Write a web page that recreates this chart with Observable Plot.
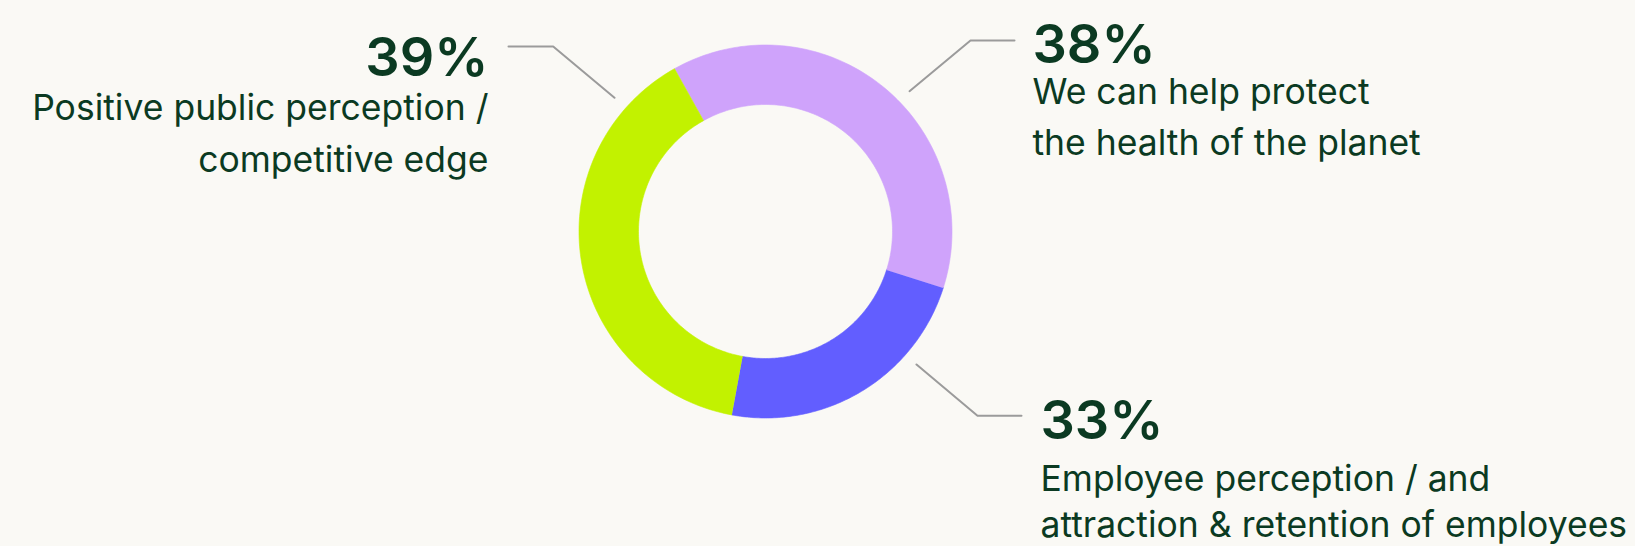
<!DOCTYPE html>
<html>
<head>
<meta charset="utf-8">
<script src="https://cdn.jsdelivr.net/npm/d3@7"></script>
<script src="https://cdn.jsdelivr.net/npm/@observablehq/plot@0.6"></script>
<style>
  html, body { margin: 0; padding: 0; background: #faf9f5; }
  #chart svg { display: block; }
</style>
</head>
<body>
<div id="chart"></div>
<script>
// ---- Data ----
const categories = ["We can help protect the health of the planet", "Employee perception / and attraction & retention of employees", "Positive public perception / competitive edge"];
const sliceShares = [38, 23, 39];           // share of the ring each slice occupies
const pctLabels = ["38%", "33%", "39%"];    // printed labels
const descLabels = [
  "We can help protect\nthe health of the planet",
  "Employee perception / and\nattraction & retention of employees",
  "Positive public perception /\ncompetitive edge"
];
const sliceColors = ["#cfa3fb", "#625eff", "#c2f200"];

// ---- Layout (pixel-like data space) ----
const W = 1635, H = 546;
const cx = 765, cy = 231, R = 186.5, r = 127;
const startDeg = -29.2;
const ink = "#0b3a22";
const font = "Inter, 'Open Sans', sans-serif";

// Build ring-sector polygons from the shares
const total = d3.sum(sliceShares);
let acc = 0;
const slices = sliceShares.map((v, i) => {
  const a0 = startDeg + acc / total * 360;
  acc += v;
  const a1 = startDeg + acc / total * 360;
  const pts = [];
  const n = 120;
  for (let k = 0; k <= n; k++) {
    const a = (a0 + (a1 - a0) * k / n) * Math.PI / 180;
    pts.push({x: cx + R * Math.sin(a), y: cy - R * Math.cos(a)});
  }
  for (let k = n; k >= 0; k--) {
    const a = (a0 + (a1 - a0) * k / n) * Math.PI / 180;
    pts.push({x: cx + r * Math.sin(a), y: cy - r * Math.cos(a)});
  }
  return {category: categories[i], color: sliceColors[i], pts};
});

// Leader lines
const leaders = [
  [{x: 909, y: 90.7}, {x: 970, y: 40}, {x: 1014, y: 40}],
  [{x: 916, y: 364}, {x: 977, y: 415.3}, {x: 1021, y: 415.3}],
  [{x: 614, y: 97.3}, {x: 552.7, y: 46}, {x: 508, y: 46}]
];

// Label anchors
const labelPos = [
  {x: 1032, pctY: 62, descY: 154, anchor: "start", lh: 1.42},
  {x: 1040, pctY: 438, descY: 536, anchor: "start", lh: 1.29},
  {x: 488, pctY: 75, descY: 171, anchor: "end", lh: 1.46}
];
const labels = pctLabels.map((p, i) => ({pct: p, desc: descLabels[i], ...labelPos[i]}));

const marks = [];
slices.forEach(s => {
  marks.push(Plot.line(s.pts, {x: "x", y: "y", fill: s.color, stroke: s.color, strokeWidth: 0.6, curve: "linear"}));
});
leaders.forEach(l => {
  marks.push(Plot.line(l, {x: "x", y: "y", stroke: "#9b9b9b", strokeWidth: 2}));
});
labels.forEach(d => {
  marks.push(Plot.text([d], {
    x: "x", y: "pctY", text: "pct", textAnchor: d.anchor, lineAnchor: "bottom",
    fontSize: 54, fontWeight: 600, fill: ink, fontFamily: font
  }));
  marks.push(Plot.text([d], {
    x: "x", y: "descY", text: "desc", textAnchor: d.anchor, lineAnchor: "bottom",
    fontSize: 35.5, fontWeight: 400, fill: ink, fontFamily: font, lineHeight: d.lh
  }));
});

const chart = Plot.plot({
  width: W, height: H,
  margin: 0,
  style: {background: "#faf9f5", fontFamily: font},
  x: {domain: [0, W], axis: null},
  y: {domain: [0, H], reverse: true, axis: null},
  marks
});
document.getElementById("chart").append(chart);
</script>
</body>
</html>
